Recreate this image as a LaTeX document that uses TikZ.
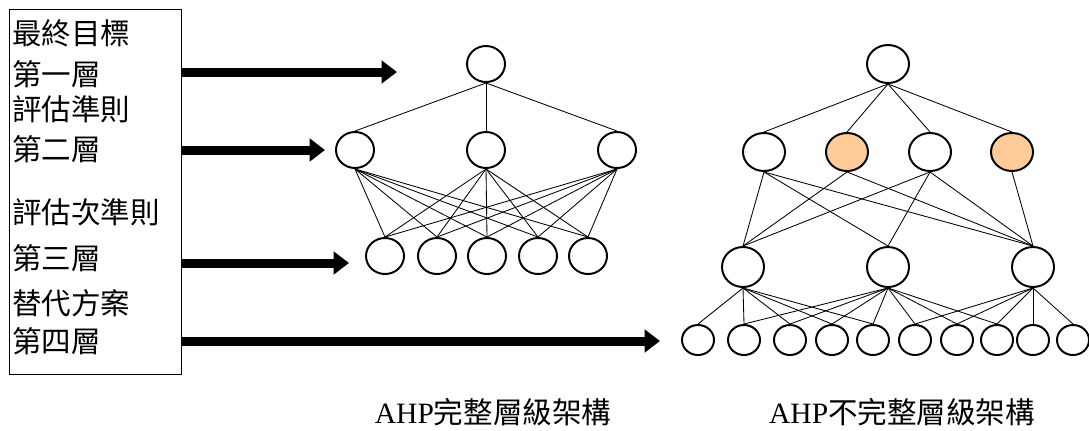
\documentclass[tikz,border=0pt]{standalone}
\usepackage{fontspec}
\setmainfont{Liberation Serif}
\newfontfamily\cjk{Noto Sans CJK TC}
\usepackage{tikz}
\usetikzlibrary{arrows.meta,
                positioning,
                shapes.geometric}
\definecolor{peach}{HTML}{FFCC99}
\tikzset{
  bubble/.style={ellipse, draw, line width=1.4pt, inner sep=0pt,
                 minimum width=0.95cm, minimum height=0.9cm},
  rbubble/.style={bubble, minimum width=1.05cm, minimum height=0.95cm},
  leaf/.style={bubble, minimum width=0.8cm, minimum height=0.75cm},
  link/.style={line width=0.6pt},
  bigarrow/.style={line width=6.4pt, -{Triangle[length=11pt, width=16pt]}},
  lbl/.style={anchor=west, inner sep=0pt, font=\fontsize{21pt}{25pt}\selectfont\cjk},
  caption/.style={inner sep=0pt, font=\fontsize{21pt}{25pt}\selectfont}
}

\begin{document}
\begin{tikzpicture}[x=0.025cm, y=-0.025cm]
\useasboundingbox (0,0) rectangle (1089,430);

% levels box
\node[draw, line width=0.7pt, minimum width=4.275cm, minimum height=9.1cm,
      inner sep=0pt] (box) at (95.5,192) {};
\foreach \y/\t [count=\i] in {33/最終目標,74/第一層,109/評估準則,149/第二層,
                              212/評估次準則,258/第三層,303/替代方案,341/第四層}
  \node[lbl] (lv\i) at (12,\y) {\t};

% arrows
\coordinate (e1) at (397,72);
\coordinate (e2) at (325,150);
\coordinate (e3) at (349,263);
\coordinate (e4) at (660,341);
\foreach \i in {1,...,4}
  \draw[bigarrow] (box.east |- e\i) -- (e\i);

% complete hierarchy
\node[bubble] (g) at (486,64) {};
\foreach \n/\x in {1/355,2/486,3/617}
  \node[bubble] (c\n) at (\x,150) {};
\foreach \n/\x in {1/385,2/437,3/487,4/538,5/588}
  \node[bubble] (a\n) at (\x,256) {};
\foreach \i in {1,2,3} {
  \draw[link] (g.south) -- (c\i.north);
  \foreach \j in {1,...,5}
    \draw[link] (c\i.south) -- (a\j.north);
}

% incomplete hierarchy
\node[rbubble] (G) at (888,64) {};
\foreach \n/\x/\f in {1/764/white,2/847/peach,3/930/white,4/1012/peach}
  \node[rbubble, fill=\f] (C\n) at (\x,152) {};
\foreach \n/\x in {1/743,2/888,3/1033}
  \node[rbubble, minimum height=1cm] (S\n) at (\x,267) {};
\foreach \n/\x in {1/698,2/744,3/790,4/832,5/873,6/915,7/957,8/997,9/1033,10/1073}
  \node[leaf] (A\n) at (\x,340) {};
\foreach \i in {1,...,4}
  \draw[link] (G.south) -- (C\i.north);
\foreach \a/\b in {1/1,1/2,1/3,2/1,2/3,3/1,3/2,3/3,4/3}
  \draw[link] (C\a.south) -- (S\b.north);
\foreach \a/\b in {1/1,1/2,1/3,1/4,1/5,2/2,2/3,2/4,2/5,2/6,2/7,2/8,
                   3/6,3/7,3/8,3/9,3/10}
  \draw[link] (S\a.south) -- (A\b.north);

% captions
\node[caption] (cap1) at (493,412) {AHP{\cjk 完整層級架構}};
\node[caption] (cap2) at (902,412) {AHP{\cjk 不完整層級架構}};
\end{tikzpicture}
\end{document}
